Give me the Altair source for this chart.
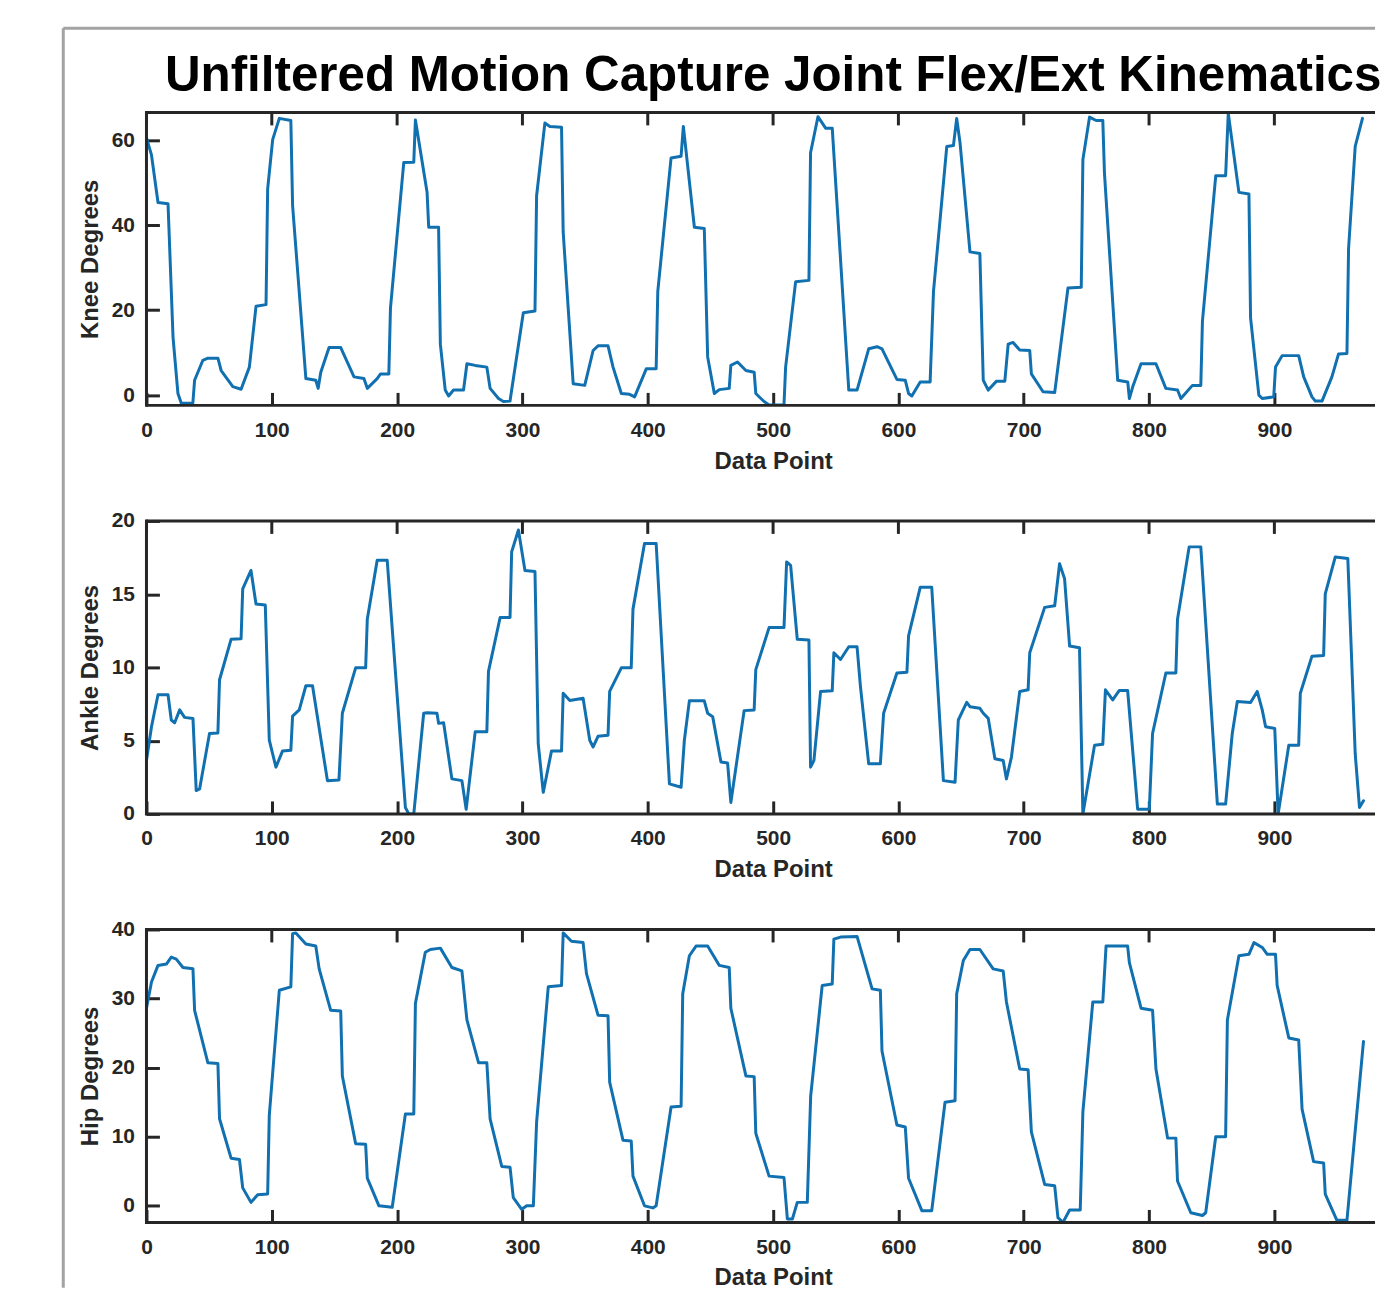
import altair as alt
import pandas as pd

# ---------------- data ----------------
knee_x = [0, 4, 9.2, 17.2, 21.2, 25.1, 27.8, 37, 38.4, 45, 49, 57, 59.6, 68.9, 75.5, 82.1, 87.4, 95.4,
          96.7, 100.7, 106, 115.2, 116.6, 127.2, 135.1, 137, 139.1, 145.7, 155, 165.6, 173.5, 176.2,
          184.1, 186.8, 193.4, 194.7, 205.3, 213.3, 214.6, 223.9, 225.2, 233.1, 234.5, 238.4, 241.1,
          245, 253, 255.7, 262.3, 271.6, 274.2, 280.9, 284.8, 290.1, 291.4, 300.7, 310, 311.3, 317.9,
          321.9, 331.2, 332.5, 340.5, 349.7, 356.4, 360.3, 368.3, 372.3, 378.9, 385.5, 389.5, 398.8,
          406.7, 408, 418.6, 426.6, 428.4, 437.2, 445.1, 447.8, 453.1, 457.1, 465, 466.3, 471.6, 478.3,
          484.9, 486.2, 492.8, 496.8, 508.7, 510, 518, 528.6, 529.9, 535.8, 541.9, 547.2, 551.1, 560.4,
          567, 576.3, 583, 586.9, 598.8, 605.5, 608.1, 610.7, 617.4, 625.3, 628, 638.6, 643.9, 646.5,
          649.2, 657.1, 665.0, 667.7, 671.7, 678.3, 684.9, 687.6, 691.5, 696.8, 704.8, 706.1, 715.4,
          724.7, 735.3, 745.9, 747.2, 752.5, 757.8, 763.1, 764.4, 775, 783, 784.3, 786.9, 793.6, 805.5,
          813.4, 822.7, 825.4, 834.6, 841.3, 842.6, 853.2, 861.1, 863.2, 871.7, 879.7, 881, 887.6,
          890.3, 899.5, 900.9, 906.2, 919.4, 923.4, 930, 932.7, 938, 945.9, 951.2, 957.9, 959.2, 964.5,
          970.3]
knee_y = [60.5, 56.5, 45.3, 45.0, 13.6, 0.4, -1.9, -1.9, 3.5, 8.2, 8.7, 8.7, 5.8, 2.0, 1.4, 6.6, 20.9, 21.3,
          48.5, 60.1, 65.1, 64.6, 44.6, 3.9, 3.5, 1.6, 5.4, 11.2, 11.2, 4.3, 3.9, 1.6,
          3.9, 5.0, 5.0, 20.5, 54.7, 54.8, 64.7, 47.7, 39.5, 39.5, 12.0, 1.2, -0.2,
          1.2, 1.2, 7.4, 7.0, 6.6, 1.6, -0.8, -1.5, -1.4, 1.2, 19.4, 19.8, 46.9, 64.0,
          63.2, 63.0, 38.4, 2.7, 2.3, 10.5, 11.6, 11.6, 6.6, 0.4, 0.2, -0.4, 6.2,
          6.2, 24.4, 55.8, 56.2, 63.2, 39.5, 39.2, 9.0, 0.4, 1.3, 1.6, 7.0, 7.8, 5.8,
          5.4, 0.4, -1.5, -2.3, -2.3, 6.6, 26.7, 27.0, 57.0, 65.5, 62.8, 62.8, 44.6, 1.2,
          1.2, 10.9, 11.4, 10.9, 3.7, 3.5, 0.4, -0.2, 3.1, 3.1, 24.4, 58.5, 58.7, 65.1,
          59.3, 33.7, 33.3, 3.5, 1.2, 3.3, 3.3, 12.0, 12.4, 10.6, 10.5, 5.0, 0.8,
          0.6, 25.2, 25.4, 55.4, 65.4, 64.6, 64.6, 52.3, 3.5, 3.1, -0.8, 1.9, 7.4, 7.4,
          1.6, 1.2, -0.8, 2.3, 2.3, 17.4, 51.6, 51.6, 66.3, 47.7, 47.3, 18.2, 0.0,
          -0.8, -0.4, 6.6, 9.3, 9.3, 4.3, -0.4, -1.4, -1.4, 4.3, 9.7, 9.8, 34.5, 58.5,
          65.1]

ankle_x = [0, 4, 9.2, 17.2, 19.8, 22.5, 26.5, 30.4, 37.1, 39.7, 42.4, 50.3, 57, 58.3, 67.5, 75.5, 76.8,
           83.4, 87.4, 94.8, 98, 103.3, 108.6, 115.2, 116.6, 121.9, 127.2, 132.5, 144.4, 153.6, 156.3,
           166.9, 174.9, 176.2, 184.1, 192.1, 206.6, 209.3, 213.3, 221.2, 223.9, 231.8, 233.1, 237.1,
           243.7, 251.7, 255.1, 262.3, 271.6, 272.9, 282.2, 290.1, 291.4, 296.8, 302.0, 310, 312.6,
           316.6, 323.2, 331.2, 332.5, 337.8, 348.4, 353.7, 356.4, 360.3, 368.3, 369.6, 378.9, 386.8,
           388.2, 397.4, 406.7, 417.3, 426.6, 429.2, 433.2, 445.1, 447.8, 451.8, 458.4, 463.7, 466.3,
           476.9, 484.9, 486.2, 496.8, 508.7, 510.8, 514, 519.3, 528.6, 529.9, 532.6, 537.9, 547.2,
           548.5, 553.8, 560.4, 567, 569.7, 576.3, 585.6, 588.2, 598.8, 606.8, 608.1, 617.4, 626.6,
           635.9, 645.2, 647.8, 654.5, 657.1, 665, 667.7, 671.7, 677, 683.6, 686.2, 690.2, 696.8,
           703.5, 704.8, 716.7, 724.7, 728.6, 732.6, 736.6, 744.5, 747.2, 756.5, 763.1, 765.2, 771,
           776.3, 782.9, 790.9, 800.2, 802.8, 813.4, 821.4, 822.7, 832, 841.3, 854.5, 861.1, 866.4,
           870.4, 881, 886.3, 890.3, 893, 900.3, 903, 911.5, 919.4, 920.7, 930, 939.3, 940.6, 948.6,
           958.6, 964.5, 967.9, 971.1]
ankle_y = [3.65, 5.95, 8.13, 8.13, 6.41, 6.22, 7.1, 6.59, 6.52, 1.59, 1.70, 5.49, 5.53, 9.16, 11.92, 11.96, 15.36,
           16.62, 14.33, 14.26, 5.03, 3.19, 4.3, 4.34, 6.68, 7.1, 8.75, 8.75, 2.27, 2.32, 6.87,
           9.97, 9.97, 13.29, 17.31, 17.31, 0.44, 0.0, 0.0, 6.87, 6.91, 6.87, 6.18, 6.22,
           2.39, 2.27, 0.32, 5.6, 5.6, 9.73, 13.41, 13.41, 17.89, 19.38, 16.62, 16.55, 4.8,
           1.47, 4.3, 4.3, 8.24, 7.74, 7.9, 5.03, 4.57, 5.3, 5.37, 8.36, 9.97, 9.97,
           13.98, 18.46, 18.46, 2.05, 1.82, 5.03, 7.72, 7.72, 6.87, 6.64, 3.54, 3.47, 0.78,
           7.05, 7.1, 9.85, 12.72, 12.72, 17.2, 16.97, 11.92, 11.87, 3.19, 3.65, 8.36, 8.4,
           11.0, 10.54, 11.41, 11.41, 8.7, 3.42, 3.42, 6.87, 9.62, 9.67, 12.15, 15.47, 15.47,
           2.27, 2.16, 6.41, 7.62, 7.32, 7.21, 6.87, 6.52, 3.77, 3.65, 2.39, 3.88, 8.36,
           8.47, 11.0, 14.1, 14.21, 17.08, 16.05, 11.46, 11.34, 0.0, 4.68, 4.75, 8.47, 7.78,
           8.43, 8.43, 0.32, 0.32, 5.49, 9.62, 9.62, 13.29, 18.23, 18.23, 0.67, 0.67, 5.49,
           7.67, 7.6, 8.36, 7.1, 5.95, 5.83, 0.0, 4.68, 4.68, 8.24, 10.77, 10.81, 15.02, 17.54,
           17.43, 4.11, 0.44, 0.9]

hip_x = [0, 4, 9.2, 15.9, 19.8, 23.8, 29.1, 37.1, 38.4, 49, 57, 58.3, 67.5, 74.2, 76.8, 83.4, 88.7, 96.7,
         98, 106, 115.2, 116.6, 119.2, 127.2, 135.1, 137.8, 147.0, 155, 156.3, 166.9, 174.9, 176.2,
         185.5, 196.1, 206.6, 213.3, 214.6, 222.5, 226.5, 234.5, 243.7, 251.7, 255.7, 265, 271.6,
         274.2, 283.5, 290.1, 292.7, 299.4, 303.4, 308.7, 311.3, 320.6, 331.2, 332.5, 339.1, 348.4,
         351.1, 360.3, 368.3, 369.6, 380.2, 386.8, 388.2, 397.4, 404.1, 406.7, 418.6, 426.6, 427.9,
         433.2, 438.5, 447.8, 457.1, 465, 466.3, 478.3, 484.9, 486.2, 496.8, 508.7, 511.4, 515.4,
         519.3, 527.3, 530, 539.2, 547.2, 548.5, 553.8, 567, 579, 585.6, 586.9, 598.8, 605.5, 608.1,
         618.7, 626.6, 637.2, 645.2, 646.5, 651.8, 657.1, 665, 675.6, 683.6, 686.2, 696.8, 703.5,
         706.1, 716.7, 724.7, 727.3, 731.3, 736.6, 745.1, 747.2, 755.1, 763.1, 765.7, 782.9, 784.3,
         793.6, 802.8, 805.5, 814.8, 821.4, 822.7, 833.3, 842.6, 845.2, 853.2, 861.1, 862.5, 871.7,
         879.7, 883.7, 890.3, 894.3, 900.9, 902.2, 911.5, 919.4, 922.1, 931.3, 939.3, 940.6, 949.9,
         957.9, 971.1]
hip_y = [28.6, 32.4, 34.8, 35.0, 36.0, 35.7, 34.5, 34.3, 28.3, 20.7, 20.6, 12.6, 6.9, 6.7, 2.6, 0.5, 1.6, 1.7,
         13.1, 31.2, 31.7, 39.4, 39.5, 37.9, 37.6, 34.3, 28.3, 28.2, 18.8, 9.0, 8.9, 4.0,
         0.0, -0.2, 13.3, 13.3, 29.3, 36.7, 37.1, 37.3, 34.5, 34.0, 26.9, 20.7, 20.7,
         12.6, 5.7, 5.6, 1.2, -0.5, 0.0, 0.0, 12.1, 31.7, 31.9, 39.5, 38.3, 38.1,
         33.6, 27.6, 27.5, 17.9, 9.5, 9.4, 4.3, 0.0, -0.3, 0.0, 14.3, 14.4, 30.7,
         36.2, 37.6, 37.6, 34.8, 34.5, 28.6, 18.8, 18.7, 10.5, 4.3, 4.1, -1.9, -1.9,
         0.5, 0.5, 15.9, 31.9, 32.1, 38.6, 38.9, 39.0, 31.4, 31.2, 22.4, 11.7, 11.4, 4.0,
         -0.7, -0.7, 15.0, 15.2, 30.7, 35.5, 37.1, 37.1, 34.3, 34.0, 29.5, 19.8, 19.7,
         10.7, 3.1, 2.9, -1.7, -2.4, -0.6, -0.6, 13.6, 29.5, 29.5, 37.6, 37.6, 35.2,
         28.6, 28.3, 19.8, 9.8, 9.8, 3.6, -1.0, -1.4, -1.0, 10.0, 10.0, 26.9, 36.2,
         36.4, 38.1, 37.4, 36.4, 36.4, 31.9, 24.3, 24.0, 14.0, 6.4, 6.2, 1.7, -2.1,
         -2.1, 23.8]

x_ticks = [0, 100, 200, 300, 400, 500, 600, 700, 800, 900]
knee_ticks = [0, 20, 40, 60]
ankle_ticks = [0, 5, 10, 15, 20]
hip_ticks = [0, 10, 20, 30, 40]

# ---------------- styling ----------------
# the reference figure is cut off at the right edge of the image (axis runs to 1000,
# only ~982 is visible), so the visible part of the axis is drawn.
W = 1235
H = 294
TICK = 13
XMAX = 981.9
FONT = "Liberation Sans"
AX = "#262626"
LINE = "#1170b0"
FRAME = "#a3a3a3"

x_scale = alt.Scale(domain=[0, XMAX], nice=False, zero=False)
one = pd.DataFrame({"a": [0]})


def x_axis(title_y=None):
    kw = dict(values=x_ticks, title="Data Point", offset=-TICK, tickSize=TICK, labelFlush=False,
              labelPadding=14, titlePadding=9, format="d", titleX=629, titleAlign="center")
    if title_y is not None:
        kw["titleY"] = title_y
        kw["titleBaseline"] = "top"
    return alt.Axis(**kw)


def panel(xv, yv, ylabel, ydom, yticks, title=None, frame=False, title_y=None):
    df = pd.DataFrame({"x": xv, "y": yv})
    ys = alt.Scale(domain=ydom, nice=False, zero=False)
    xax = x_axis(title_y)
    line = alt.Chart(df).mark_line(color=LINE, strokeWidth=3, strokeJoin="round",
                                   strokeCap="round", clip=True).encode(
        x=alt.X("x:Q", scale=x_scale, axis=xax),
        y=alt.Y("y:Q", scale=ys,
                axis=alt.Axis(values=yticks, title=ylabel, offset=-TICK, tickSize=TICK,
                              labelPadding=12, titlePadding=9, format="d")),
    )
    top_ticks = alt.Chart(pd.DataFrame({"x": x_ticks})).mark_rule(color=AX, strokeWidth=3).encode(
        x=alt.X("x:Q", scale=x_scale, axis=xax),
        y=alt.value(0),
        y2=alt.value(TICK),
    )
    box_l = alt.Chart(one).mark_rule(color=AX, strokeWidth=3).encode(
        x=alt.value(0), y=alt.value(-1.5), y2=alt.value(H + 1.5))
    box_t = alt.Chart(one).mark_rule(color=AX, strokeWidth=3).encode(
        y=alt.value(0), x=alt.value(0), x2=alt.value(W - 2))
    box_b = alt.Chart(one).mark_rule(color=AX, strokeWidth=3).encode(
        y=alt.value(H), x=alt.value(0), x2=alt.value(W - 2))
    layers = [line, top_ticks, box_l, box_t, box_b]
    if frame:
        top_abs = 111.5 + 2 * (H + 116)
        v = alt.Chart(one).mark_rule(color=FRAME, strokeWidth=3).encode(
            x=alt.value(-83.5), y=alt.value(27 - top_abs), y2=alt.value(1291 - top_abs))
        h = alt.Chart(one).mark_rule(color=FRAME, strokeWidth=3).encode(
            y=alt.value(27 - top_abs), x=alt.value(-83.5), x2=alt.value(W - 2))
        layers += [v, h]
    ch = alt.layer(*layers).properties(width=W, height=H)
    if title:
        ch = ch.properties(title=alt.Title(title, anchor="middle", frame="group", offset=7.6, dx=11.5,
                                           baseline="top", font=FONT, fontSize=49.5,
                                           fontWeight="bold", color="#000000"))
    return ch


p1 = panel(knee_x, knee_y, "Knee Degrees", [-2.4, 66.5], knee_ticks,
           title="Unfiltered Motion Capture Joint Flex/Ext Kinematics")
p2 = panel(ankle_x, ankle_y, "Ankle Degrees", [0, 20], ankle_ticks)
p3 = panel(hip_x, hip_y, "Hip Degrees", [-2.4, 40], hip_ticks, frame=True, title_y=56)

chart = alt.vconcat(p1, p2, p3, spacing=116, bounds="flush").properties(
    padding={"left": 62, "top": 24.5, "right": 0, "bottom": 0},
    background="white",
).configure_view(
    strokeWidth=0
).configure_axis(
    labelFont=FONT, labelFontSize=21, labelFontWeight="bold", labelColor=AX,
    titleFont=FONT, titleFontSize=24, titleFontWeight="bold", titleColor=AX,
    tickColor=AX, tickWidth=3, domain=False, grid=False,
)

chart.save("out.html", embed_options={"renderer": "svg", "actions": False})
